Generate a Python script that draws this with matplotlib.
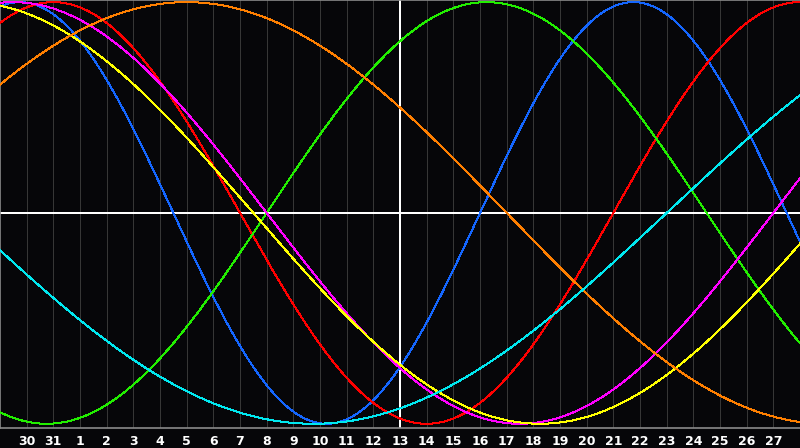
import numpy as np
import matplotlib
matplotlib.use('Agg')
import matplotlib.pyplot as plt

# Day labels along the bottom (day 13 sits on the centre line)
day_labels = ['30', '31'] + [str(d) for d in range(1, 28)]
day_offsets = list(range(-14, 15))

# Biorhythm cycles: period in days and days into the cycle at day 13
cycle_names = ['physical', 'emotional', 'intellectual', 'intuitive',
               'aesthetic', 'awareness', 'spiritual']
periods = [23, 28, 33, 38, 43, 48, 53]
phase_at_centre = [20, 20, 5, 24, 27, 20, 43]
colors = ['#1466ff', '#ff0000', '#22ee00', '#ff00ff',
          '#ffff00', '#ff7f00', '#00e8f0']

bg = '#060609'

fig = plt.figure(figsize=(8, 4.48), dpi=100, facecolor=bg)
ax = fig.add_axes([0, 20 / 448, 1, 428 / 448])
ax.set_facecolor(bg)
ax.set_xlim(-15, 15)
ax.set_ylim(-1.02, 1.01)

# Day grid
for d in day_offsets:
    if d != 0:
        ax.axvline(d, color='#363636', lw=0.72, antialiased=False, zorder=1)

# Crosshair through the centre day and zero
ax.axvline(0, color='white', lw=1.1, antialiased=False, zorder=2)
ax.axhline(0, color='white', lw=1.1, antialiased=False, zorder=2)

# Curves
days = np.linspace(-15, 15, 801)
for name, p, ph, c in zip(cycle_names, periods, phase_at_centre, colors):
    vals = np.sin(2 * np.pi * (ph + days) / p)
    ax.plot(days, vals, color=c, lw=0.72, antialiased=False, zorder=3, label=name)

# Frame: grey left, top and bottom edges
for side in ['left', 'top', 'bottom']:
    ax.spines[side].set_color('#8a8a8a')
    ax.spines[side].set_linewidth(1.2)
ax.spines['right'].set_visible(False)

ax.set_yticks([])
ax.set_xticks(day_offsets)
ax.set_xticklabels(day_labels, color='white', fontsize=9, fontweight='bold',
                   family='DejaVu Sans')
ax.tick_params(axis='x', length=0, pad=5)

fig.savefig('out.png', dpi=100, facecolor=bg)
